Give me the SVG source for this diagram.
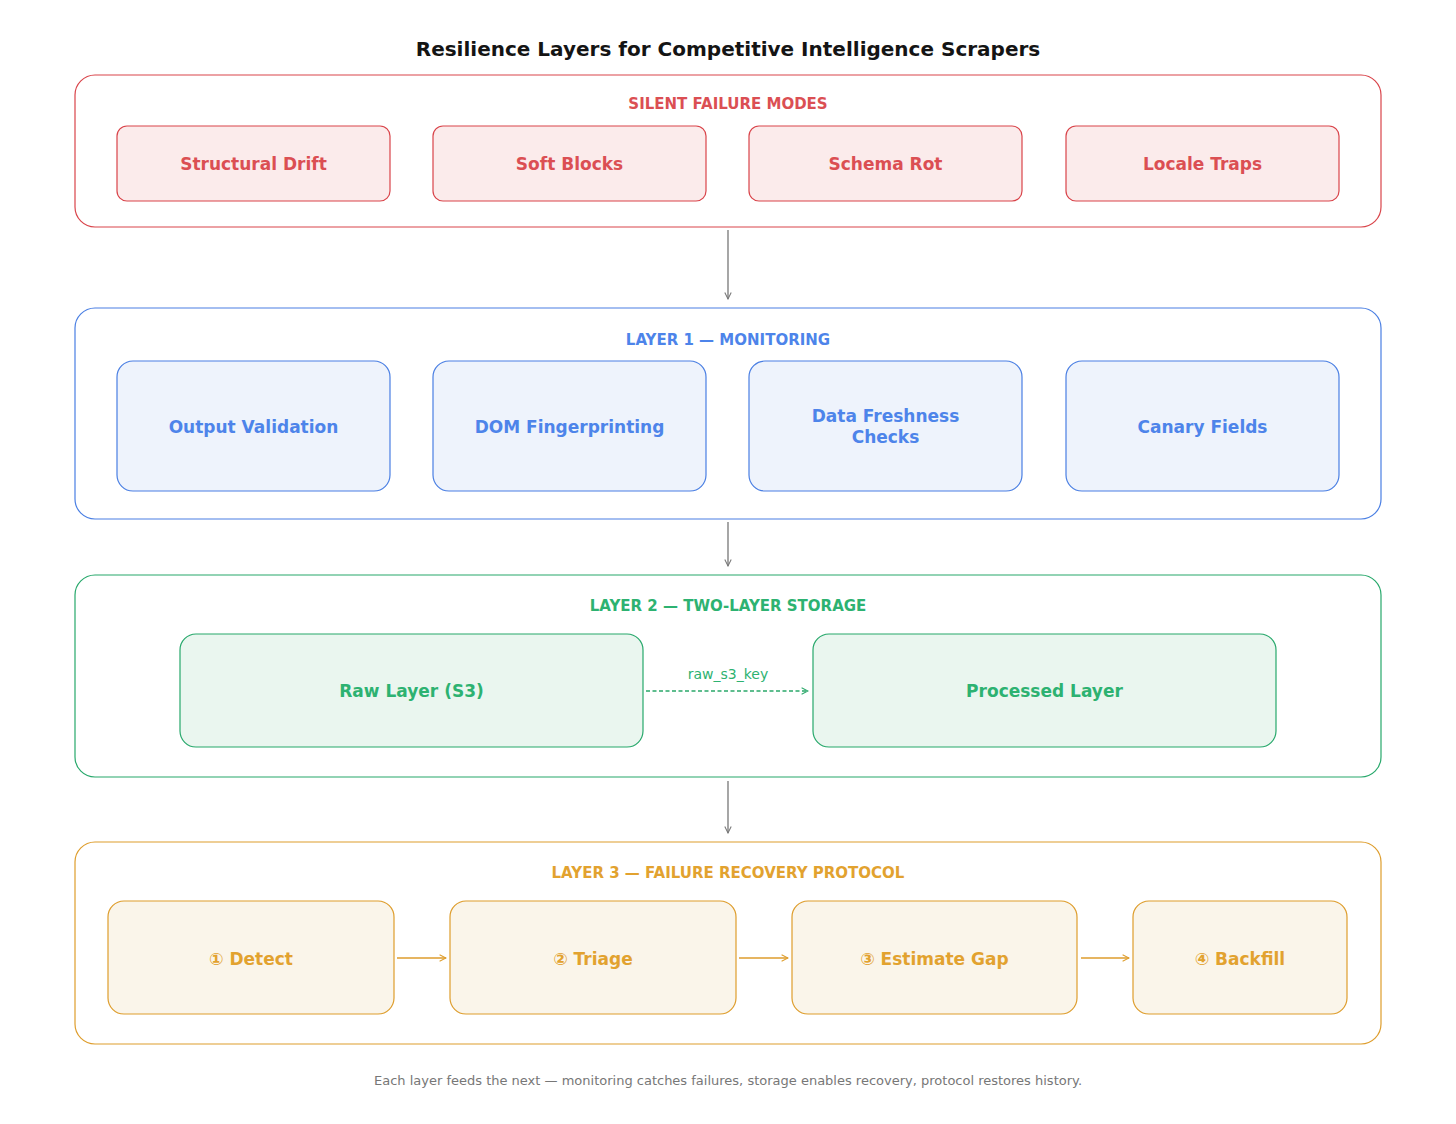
<svg xmlns="http://www.w3.org/2000/svg" width="1456" height="1124" viewBox="0 0 1456 1124">
<defs>
<style>
text{font-family:"DejaVu Sans","Liberation Sans",sans-serif;text-anchor:middle;dominant-baseline:central}
.title{font-size:20px;font-weight:bold;fill:#141414}
.hdr{font-size:15px;font-weight:bold}
.lbl{font-size:17px;font-weight:bold}
.red .frame,.red .node{stroke:#d9444a}
.red text{fill:#db4f53}
.red .node{fill:#fbebeb}
.blue .frame,.blue .node{stroke:#4a7fe3}
.blue text{fill:#4d84ea}
.blue .node{fill:#eef3fc}
.green .frame,.green .node{stroke:#27a86b}
.green text{fill:#2db271}
.green .node{fill:#eaf6ef}
.orange .frame,.orange .node{stroke:#de9d2c}
.orange text{fill:#e2a22f}
.orange .node{fill:#faf5ea}
.frame{fill:#fff;stroke-width:1.2}
.node{stroke-width:1.2}
.foot{font-size:13px;fill:#777}
</style>
<marker id="ag" viewBox="0 0 10 10" refX="9" refY="5" markerWidth="8" markerHeight="8" orient="auto" markerUnits="userSpaceOnUse"><path d="M1,1 L9,5 L1,9" fill="none" stroke="#777" stroke-width="1.3"/></marker>
<marker id="agr" viewBox="0 0 10 10" refX="9" refY="5" markerWidth="8" markerHeight="8" orient="auto" markerUnits="userSpaceOnUse"><path d="M1,1 L9,5 L1,9" fill="none" stroke="#2aa86a" stroke-width="1.3"/></marker>
<marker id="ao" viewBox="0 0 10 10" refX="9" refY="5" markerWidth="8" markerHeight="8" orient="auto" markerUnits="userSpaceOnUse"><path d="M1,1 L9,5 L1,9" fill="none" stroke="#de9d2c" stroke-width="1.3"/></marker>
</defs>
<rect width="1456" height="1124" fill="#fff"/>
<text class="title" x="728" y="48.5">Resilience Layers for Competitive Intelligence Scrapers</text>

<g id="layer0" class="red">
<rect class="frame" x="75" y="75" width="1306" height="152" rx="20"/>
<text class="hdr" x="728" y="104">SILENT FAILURE MODES</text>
<g id="structural-drift"><rect class="node" x="117" y="126" width="273" height="75" rx="10"/><text class="lbl" x="253.5" y="164">Structural Drift</text></g>
<g id="soft-blocks"><rect class="node" x="433" y="126" width="273" height="75" rx="10"/><text class="lbl" x="569.5" y="164">Soft Blocks</text></g>
<g id="schema-rot"><rect class="node" x="749" y="126" width="273" height="75" rx="10"/><text class="lbl" x="885.5" y="164">Schema Rot</text></g>
<g id="locale-traps"><rect class="node" x="1066" y="126" width="273" height="75" rx="10"/><text class="lbl" x="1202.5" y="164">Locale Traps</text></g>
</g>

<g id="layer1" class="blue">
<rect class="frame" x="75" y="308" width="1306" height="211" rx="20"/>
<text class="hdr" x="728" y="340">LAYER 1 — MONITORING</text>
<g id="output-validation"><rect class="node" x="117" y="361" width="273" height="130" rx="16"/><text class="lbl" x="253.5" y="427">Output Validation</text></g>
<g id="dom-fingerprinting"><rect class="node" x="433" y="361" width="273" height="130" rx="16"/><text class="lbl" x="569.5" y="427">DOM Fingerprinting</text></g>
<g id="data-freshness"><rect class="node" x="749" y="361" width="273" height="130" rx="16"/><text class="lbl" x="885.5" y="416">Data Freshness</text><text class="lbl" x="885.5" y="437">Checks</text></g>
<g id="canary-fields"><rect class="node" x="1066" y="361" width="273" height="130" rx="16"/><text class="lbl" x="1202.5" y="427">Canary Fields</text></g>
</g>

<g id="layer2" class="green">
<rect class="frame" x="75" y="575" width="1306" height="202" rx="20"/>
<text class="hdr" x="728" y="606">LAYER 2 — TWO-LAYER STORAGE</text>
<g id="raw-layer"><rect class="node" x="180" y="634" width="463" height="113" rx="16"/><text class="lbl" x="411.5" y="691">Raw Layer (S3)</text></g>
<g id="processed-layer"><rect class="node" x="813" y="634" width="463" height="113" rx="16"/><text class="lbl" x="1044.5" y="691">Processed Layer</text></g>
<text x="728" y="674" style="font-size:14px">raw_s3_key</text>
</g>

<g id="layer3" class="orange">
<rect class="frame" x="75" y="842" width="1306" height="202" rx="20"/>
<text class="hdr" x="728" y="873">LAYER 3 — FAILURE RECOVERY PROTOCOL</text>
<g id="detect"><rect class="node" x="108" y="901" width="286" height="113" rx="16"/><text class="lbl" x="251" y="959">① Detect</text></g>
<g id="triage"><rect class="node" x="450" y="901" width="286" height="113" rx="16"/><text class="lbl" x="593" y="959">② Triage</text></g>
<g id="estimate-gap"><rect class="node" x="792" y="901" width="285" height="113" rx="16"/><text class="lbl" x="934.5" y="959">③ Estimate Gap</text></g>
<g id="backfill"><rect class="node" x="1133" y="901" width="214" height="113" rx="16"/><text class="lbl" x="1240" y="959">④ Backfill</text></g>
</g>

<g id="connectors" fill="none" stroke-width="1.3">
<line x1="728" y1="230" x2="728" y2="299" stroke="#777" marker-end="url(#ag)"/>
<line x1="728" y1="522" x2="728" y2="566" stroke="#777" marker-end="url(#ag)"/>
<line x1="728" y1="781" x2="728" y2="833" stroke="#777" marker-end="url(#ag)"/>
<line x1="646" y1="691" x2="808" y2="691" stroke="#2aa86a" stroke-dasharray="4,2.5" marker-end="url(#agr)"/>
<line x1="397" y1="958" x2="446" y2="958" stroke="#de9d2c" marker-end="url(#ao)"/>
<line x1="739" y1="958" x2="788" y2="958" stroke="#de9d2c" marker-end="url(#ao)"/>
<line x1="1081" y1="958" x2="1129" y2="958" stroke="#de9d2c" marker-end="url(#ao)"/>
</g>

<text class="foot" x="728" y="1080.5">Each layer feeds the next — monitoring catches failures, storage enables recovery, protocol restores history.</text>
</svg>
